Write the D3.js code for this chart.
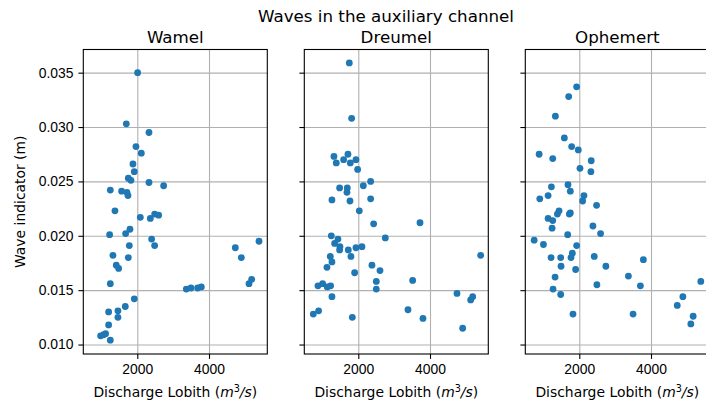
<!DOCTYPE html>
<html>
<head>
<meta charset="utf-8">
<script src="https://cdn.jsdelivr.net/npm/d3@7"></script>
<style>
  body { margin: 0; background: #fff; }
  svg { font-family: "DejaVu Sans", sans-serif; }
  .tick text { font-size: 13.9px; fill: #000; }
  .tick line { stroke: #000; stroke-width: 1.1; }
  .grid line { stroke: #b0b0b0; stroke-width: 1.1; }
  .grid .domain { display: none; }
</style>
</head>
<body>
<svg width="706" height="405"></svg>
<script>
  // DATA
  const stations = ["Wamel", "Dreumel", "Ophemert"];
  const xTicks = [2000, 4000];
  const yTicks = [0.010, 0.015, 0.020, 0.025, 0.030, 0.035];

  // [discharge, wave indicator]
  const wamel = [
    [2009, 0.0350], [1693, 0.0303], [2326, 0.0295], [1963, 0.0282], [2112, 0.0276],
    [1879, 0.0266], [1916, 0.0259], [1749, 0.0253], [1823, 0.0251], [2326, 0.0249],
    [2735, 0.0246], [1247, 0.0242], [1563, 0.0241], [1712, 0.0240], [1740, 0.0237],
    [1377, 0.0223], [2084, 0.0217], [2363, 0.0216], [2484, 0.0220], [2595, 0.0219],
    [1795, 0.0206], [1674, 0.0202], [1228, 0.0201], [2400, 0.0197], [2484, 0.0191],
    [1777, 0.0191], [1321, 0.0182], [1749, 0.0180], [1414, 0.0173], [1479, 0.0170],
    [1247, 0.0156], [3367, 0.0151], [3497, 0.0152], [3683, 0.0152], [3786, 0.0153],
    [4734, 0.0189], [4902, 0.0180], [5395, 0.0195], [5116, 0.0156], [5190, 0.0160],
    [1916, 0.0142], [1665, 0.0135], [1200, 0.0130], [1460, 0.0131], [1460, 0.0125],
    [1200, 0.0118], [977, 0.0108], [1061, 0.0109], [1116, 0.0110], [1247, 0.0104]
  ];
  const dreumel = [
    [1749, 0.0359], [1814, 0.0308], [1321, 0.0273], [1712, 0.0275], [1591, 0.0270],
    [1935, 0.0270], [1386, 0.0267], [1777, 0.0267], [1981, 0.0261], [2344, 0.0250],
    [2140, 0.0246], [1479, 0.0244], [1693, 0.0244], [1684, 0.0240], [1265, 0.0233],
    [1768, 0.0232], [2344, 0.0234], [2028, 0.0223], [2428, 0.0211], [3721, 0.0212],
    [1247, 0.0200], [1433, 0.0197], [1340, 0.0193], [2753, 0.0198], [1488, 0.0190],
    [1479, 0.0187], [1721, 0.0187], [1935, 0.0189], [2102, 0.0190], [1795, 0.0181],
    [1219, 0.0181], [1265, 0.0176], [1126, 0.0171], [2381, 0.0173], [1898, 0.0166],
    [2605, 0.0168], [2502, 0.0158], [3516, 0.0159], [2502, 0.0151], [875, 0.0154],
    [1005, 0.0156], [1135, 0.0153], [1228, 0.0154], [1265, 0.0144], [5413, 0.0182],
    [4753, 0.0147], [5190, 0.0144], [5134, 0.0141], [3386, 0.0132], [3804, 0.0124],
    [1833, 0.0125], [893, 0.0131], [745, 0.0128], [4911, 0.0115]
  ];
  const ophemert = [
    [1926, 0.0337], [1704, 0.0328], [1333, 0.0310], [1583, 0.0290], [1787, 0.0282],
    [1972, 0.0279], [880, 0.0275], [1259, 0.0271], [2333, 0.0269], [2019, 0.0262],
    [2324, 0.0259], [1685, 0.0247], [1222, 0.0245], [1750, 0.0241], [1130, 0.0237],
    [898, 0.0234], [2130, 0.0237], [2093, 0.0232], [2482, 0.0228], [1435, 0.0223],
    [1389, 0.0220], [1750, 0.0221], [1722, 0.0220], [1130, 0.0216], [1259, 0.0214],
    [1241, 0.0207], [2380, 0.0209], [2593, 0.0202], [1676, 0.0201], [741, 0.0196],
    [1000, 0.0192], [1926, 0.0191], [1806, 0.0184], [1769, 0.0180], [1213, 0.0180],
    [1481, 0.0180], [2417, 0.0181], [3787, 0.0178], [1491, 0.0172], [2741, 0.0172],
    [1898, 0.0169], [1324, 0.0162], [3370, 0.0163], [2491, 0.0155], [3704, 0.0154],
    [1268, 0.0151], [1481, 0.0146], [5389, 0.0158], [4889, 0.0144], [4732, 0.0136],
    [1824, 0.0128], [3500, 0.0128], [5176, 0.0126], [5111, 0.0119]
  ];
  const seriesList = [wamel, dreumel, ophemert];

  // LAYOUT
  const svg = d3.select("svg");
  const panelLeft = [83.3, 304.3, 525.3];
  const panelWidth = 184;
  const plotTop = 49.5, plotBottom = 354;
  const h = plotBottom - plotTop;

  const xScale = d3.scaleLinear().domain([494, 5626]).range([0, panelWidth]);
  const yScale = d3.scaleLinear().domain([0.00913, 0.03713]).range([h, 0]);

  // SUPTITLE
  svg.append("text")
    .attr("x", 386).attr("y", 22)
    .attr("text-anchor", "middle")
    .style("font-size", "16.7px")
    .text("Waves in the auxiliary channel");

  stations.forEach((name, i) => {
    const g = svg.append("g").attr("transform", `translate(${panelLeft[i]},${plotTop})`);

    // GRID
    g.append("g").attr("class", "grid")
      .attr("transform", `translate(0,${h})`)
      .call(d3.axisBottom(xScale).tickValues(xTicks).tickSize(-h).tickFormat(""));
    g.append("g").attr("class", "grid")
      .call(d3.axisLeft(yScale).tickValues(yTicks).tickSize(-panelWidth).tickFormat(""));

    // POINTS
    g.selectAll("circle")
      .data(seriesList[i])
      .enter()
      .append("circle")
      .attr("cx", (d) => xScale(d[0]))
      .attr("cy", (d) => yScale(d[1]))
      .attr("r", 3.4)
      .attr("fill", "#1f77b4");

    // FRAME
    g.append("rect")
      .attr("width", panelWidth).attr("height", h)
      .attr("fill", "none").attr("stroke", "#000").attr("stroke-width", 1.1);

    // AXES
    const xAxisG = g.append("g")
      .attr("transform", `translate(0,${h})`)
      .call(d3.axisBottom(xScale).tickValues(xTicks).tickSize(4.9).tickPadding(4.9).tickFormat(d3.format("d")));
    xAxisG.select(".domain").remove();

    const yAxisG = g.append("g")
      .call(d3.axisLeft(yScale).tickValues(yTicks).tickSize(4.9).tickPadding(4.9)
        .tickFormat(i === 0 ? d3.format(".3f") : ""));
    yAxisG.select(".domain").remove();

    // TITLES
    g.append("text")
      .attr("x", panelWidth / 2).attr("y", -7)
      .attr("text-anchor", "middle")
      .style("font-size", "16.7px")
      .text(name);

    const xl = g.append("text")
      .attr("x", panelWidth / 2).attr("y", h + 43)
      .attr("text-anchor", "middle")
      .style("font-size", "13.9px");
    xl.append("tspan").text("Discharge Lobith (");
    xl.append("tspan").style("font-style", "italic").text("m");
    xl.append("tspan").attr("dy", -5).style("font-size", "9.7px").text("3");
    xl.append("tspan").attr("dy", 5).style("font-style", "italic").text("/s");
    xl.append("tspan").text(")");
  });

  // Y LABEL
  svg.append("text")
    .attr("transform", `translate(25,${(plotTop + plotBottom) / 2}) rotate(-90)`)
    .attr("text-anchor", "middle")
    .style("font-size", "13.9px")
    .text("Wave indicator (m)");
</script>
</body>
</html>
